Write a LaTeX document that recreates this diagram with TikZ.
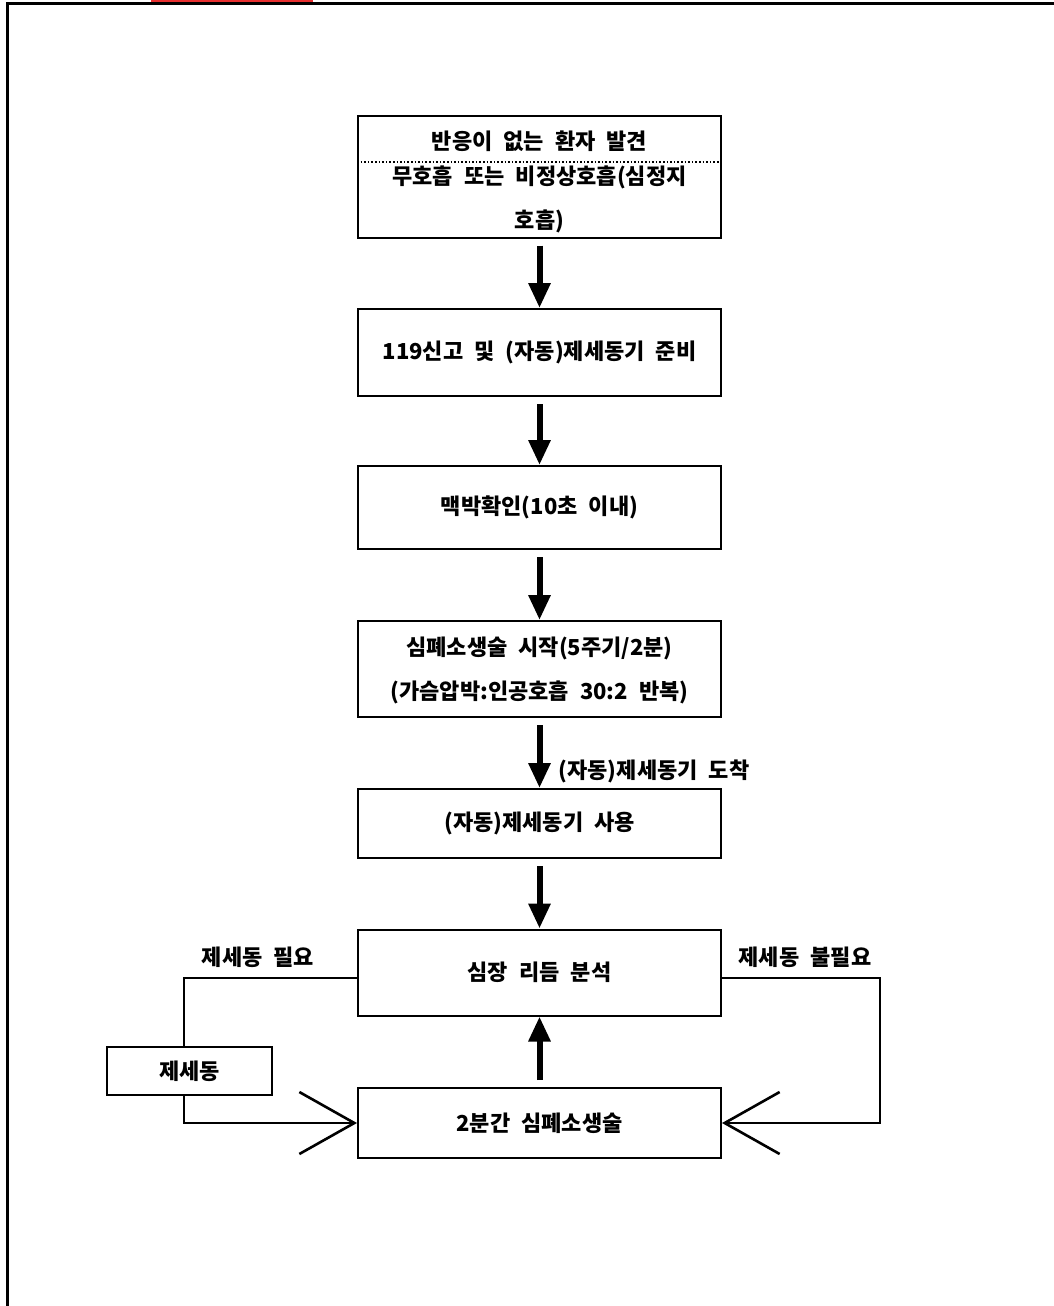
\documentclass[tikz,border=0pt]{standalone}
\usepackage{fontspec}
\setmainfont{Noto Sans CJK KR}[WordSpace=2.2]
\usetikzlibrary{arrows.meta}
\definecolor{topred}{RGB}{232,48,48}
\begin{document}
\begin{tikzpicture}[x=1pt,y=-1pt,
  txt/.style={font=\bfseries\fontsize{22}{26}\selectfont, inner sep=0pt},
  box/.style={draw, line width=2pt, minimum width=363pt, inner sep=0pt, font=\bfseries\fontsize{22}{26}\selectfont},
  bigarrow/.style={line width=6pt, -{Triangle[width=21pt,length=25pt]}, shorten <=7pt},
  link/.style={line width=2pt},
  openarrow/.style={line width=2pt, -{Straight Barb[length=55pt,width=62pt,line width=2.6pt]}}]
\useasboundingbox (0,0) rectangle (1054,1306);
% frame and top mark
\fill[topred] (151,0) rectangle (313,1.6);
\draw[line width=3pt] (6,4) -- (1054,4);
\draw[line width=3pt] (7,4) -- (7,1306);
% boxes
\node[box, minimum height=122pt] (b1) at (539.5,176.5) {};
\draw[line width=1.6pt, dotted] (b1.west |- 0,162) -- (b1.east |- 0,162);
\node[txt] (b1a) at (539.5,141) {반응이 없는 환자 발견};
\node[txt] (b1b) at (539.5,177) {무호흡 또는 비정상호흡(심정지};
\node[txt] (b1c) at (539.5,221) {호흡)};
\node[box, minimum height=87pt] (b2) at (539.5,352.5) {119신고 및 (자동)제세동기 준비};
\node[box, minimum height=83pt] (b3) at (539.5,507.5) {맥박확인(10초 이내)};
\node[box, minimum height=96pt] (b4) at (539.5,669) {};
\node[txt] (b4a) at (539.5,648) {심폐소생술 시작(5주기/2분)};
\node[txt] (b4b) at (539.5,692) {(가슴압박:인공호흡 30:2 반복)};
\node[box, minimum height=69pt] (b5) at (539.5,823.5) {(자동)제세동기 사용};
\node[box, minimum height=86pt] (b6) at (539.5,972.5) {심장 리듬 분석};
\node[box, minimum width=165pt, minimum height=48pt] (b7) at (189.5,1071) {제세동};
\node[box, minimum height=70pt] (b8) at (539.5,1123) {2분간 심폐소생술};
% labels
\node[txt] (l1) at (654,771) {(자동)제세동기 도착};
\node[txt] (l2) at (258,957) {제세동 필요};
\node[txt] (l3) at (805,957) {제세동 불필요};
% arrows
\draw[bigarrow] (b1.south) -- (b2.north);
\draw[bigarrow] (b2.south) -- (b3.north);
\draw[bigarrow] (b3.south) -- (b4.north);
\draw[bigarrow] (b4.south) -- (b5.north);
\draw[bigarrow] (b5.south) -- (b6.north);
\draw[bigarrow] (b8.north) -- (b6.south);
% loops
\coordinate (lx) at (184,978);
\coordinate (rx) at (880,978);
\draw[link] (b6.west |- lx) -| (lx |- b7.north);
\draw[openarrow] (lx |- b7.south) |- (b8.west);
\draw[openarrow] (b6.east |- rx) -| (rx |- b8.east) -- (b8.east);
\end{tikzpicture}
\end{document}
